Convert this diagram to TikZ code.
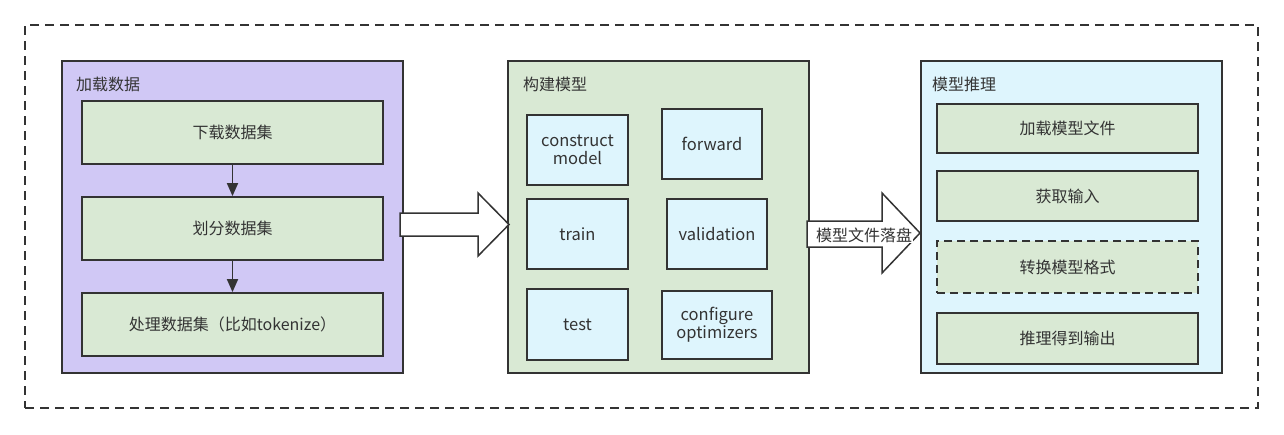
\documentclass[tikz,border=0pt]{standalone}
\usepackage{fontspec}
\setmainfont{Noto Sans CJK SC}
\usetikzlibrary{arrows.meta,positioning,calc}
\definecolor{lnc}{HTML}{333333}
\definecolor{purp}{RGB}{208,200,245}
\definecolor{grn}{RGB}{217,233,212}
\definecolor{cyn}{RGB}{222,245,253}
\definecolor{txt}{HTML}{333333}
\tikzset{
  panel/.style={draw=lnc, line width=1.8pt, anchor=north west, inner sep=0pt},
  gbox/.style={draw=lnc, line width=1.8pt, fill=grn, inner sep=0pt, text=txt, font=\fontsize{16}{19}\selectfont},
  bbox/.style={draw=lnc, line width=1.8pt, fill=cyn, inner sep=0pt, text=txt, align=center, font=\fontsize{16.5}{20}\selectfont},
  ptitle/.style={anchor=west, inner sep=0pt, text=txt, font=\fontsize{16}{19}\selectfont},
  blockarrow/.style={draw=lnc, line width=1.5pt, fill=white, line join=miter},
  flow/.style={draw=lnc, line width=1.8pt, -{Triangle[length=13pt,width=11pt]}},
}
\newcommand{\boxat}[6]{% style, name, x1, y1, x2, y2, then node text
  \node[#1, minimum width={#5-#3}, minimum height={#6-#4}] (#2) at ({(#3+#5)/2},{(#4+#6)/2})}
\begin{document}
\begin{tikzpicture}[x=1pt,y=-1pt]
\useasboundingbox (0,0) rectangle (1284,434);
% outer dashed frame
\node[draw=lnc, line width=1.6pt, dash pattern=on 9pt off 6pt, minimum width=1233pt, minimum height=383pt, inner sep=0pt] (frame) at (641.5,216.5) {};
% panels
\boxat{panel, anchor=center, fill=purp}{p1}{62}{61}{403}{373}{};
\boxat{panel, anchor=center, fill=grn}{p2}{508}{61}{809}{373}{};
\boxat{panel, anchor=center, fill=cyn}{p3}{921}{61}{1222}{373}{};
\node[ptitle] (t1) at (76,84) {加载数据};
\node[ptitle] (t2) at (523,84) {构建模型};
\node[ptitle] (t3) at (932,84) {模型推理};
% panel 1 boxes
\boxat{gbox}{a1}{82}{101}{383}{164}{\raisebox{-1.5pt}{下载数据集}};
\boxat{gbox}{a2}{82}{197}{383}{260}{\raisebox{-1.5pt}{划分数据集}};
\boxat{gbox}{a3}{82}{293}{383}{356}{\raisebox{-1.5pt}{处理数据集（比如tokenize）}};
\draw[flow] (a1.south) -- (a2.north);
\draw[flow] (a2.south) -- (a3.north);
% panel 2 boxes
\boxat{bbox}{b1}{527}{115}{628}{185}{construct\\[-2pt]model};
\boxat{bbox}{b2}{662}{109}{762}{179}{forward};
\boxat{bbox}{b3}{527}{199}{628}{269}{train};
\boxat{bbox}{b4}{667}{199}{767}{269}{validation};
\boxat{bbox}{b5}{527}{289}{628}{360}{test};
\boxat{bbox}{b6}{662}{291}{772}{359}{configure\\[-2pt]optimizers};
% panel 3 boxes
\boxat{gbox}{c1}{937}{104}{1198}{153}{\raisebox{-1.5pt}{加载模型文件}};
\boxat{gbox}{c2}{937}{171}{1198}{221}{\raisebox{-1.5pt}{获取输入}};
\boxat{gbox, dash pattern=on 8pt off 5pt}{c3}{937}{241}{1198}{293}{\raisebox{-1.5pt}{转换模型格式}};
\boxat{gbox}{c4}{937}{313}{1198}{364}{\raisebox{-1.5pt}{推理得到输出}};
% block arrows
\draw[blockarrow] (400,213) -- (478,213) -- (478,193) -- (509,224.5) -- (478,256) -- (478,236) -- (400,236) -- cycle;
\draw[blockarrow] (807,221) -- (882,221) -- (882,193) -- (920,233) -- (882,273) -- (882,247) -- (807,247) -- cycle;
\node[fill=white, inner sep=1pt, text=txt, font=\fontsize{16}{19}\selectfont] (lbl) at (864,235) {模型文件落盘};
\end{tikzpicture}
\end{document}
